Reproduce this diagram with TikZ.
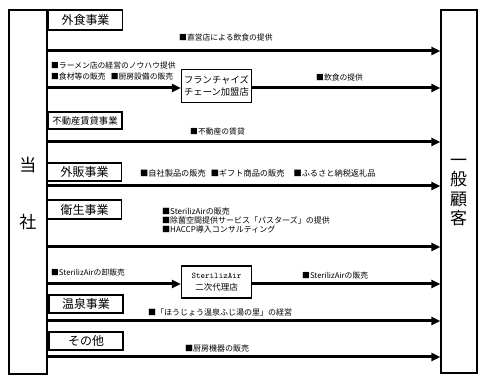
\documentclass[tikz,border=0pt]{standalone}
\usepackage{fontspec}
\newfontfamily\jp{Noto Sans CJK JP}
\usetikzlibrary{arrows.meta}
\begin{document}
\begin{tikzpicture}[x=1pt,y=-1pt,
  bigbox/.style={draw,line width=1.3pt,inner sep=0pt},
  secbox/.style={draw,line width=1.4pt,inner sep=0pt,minimum width=74pt,minimum height=18pt,font=\jp\fontsize{12}{12}\selectfont},
  midbox/.style={draw,line width=1.3pt,inner sep=0pt,minimum width=70pt,minimum height=33pt,align=center},
  lbl/.style={anchor=west,inner sep=0pt,font=\jp\fontsize{7.8}{9}\selectfont},
  flow/.style={line width=3pt,-{Triangle[length=9pt,width=8pt]}},
  bigtxt/.style={inner sep=0pt,font=\jp\fontsize{17}{19.5}\selectfont,align=center}]
\useasboundingbox (0,0) rectangle (491,387);
% main boxes
\node[bigbox,minimum width=38pt,minimum height=364pt] (tosha) at (28,192) {};
\node[bigbox,minimum width=36pt,minimum height=363pt] (kokyaku) at (459,191.5) {};
\node[bigtxt] (t1) at (28,165) {当};
\node[bigtxt] (t2) at (28,222) {社};
\node[bigtxt] (k1) at (458.5,192.5) {一\\般\\顧\\客};
% section boxes
\node[secbox,minimum height=20pt] (gaishoku) at (85.5,20) {外食事業};
\node[secbox,minimum height=17pt,font=\jp\fontsize{9.3}{9.3}\selectfont] (fudosan) at (85,120.5) {不動産賃貸事業};
\node[secbox] (gaihan) at (84.5,172) {外販事業};
\node[secbox,minimum height=19pt] (eisei) at (84.5,209.5) {衛生事業};
\node[secbox] (onsen) at (86,304) {温泉事業};
\node[secbox] (sonota) at (86,341) {その他};
% intermediate boxes
\node[midbox,font=\jp\fontsize{9.3}{12}\selectfont] (fc) at (216.5,86) {フランチャイズ\\チェーン加盟店};
\node[midbox,minimum height=32pt] (sa) at (216.5,282) {{\ttfamily\fontsize{8.6}{12}\selectfont SterilizAir}\\{\jp\fontsize{8.5}{12}\selectfont 二次代理店}};
% start coordinates on the left box
\coordinate (s1) at (tosha.east |- 0,51);
\coordinate (s2) at (tosha.east |- 0,88);
\coordinate (s3) at (tosha.east |- 0,142);
\coordinate (s4) at (tosha.east |- 0,186);
\coordinate (s5) at (tosha.east |- 0,247);
\coordinate (s6) at (tosha.east |- 0,284);
\coordinate (s7) at (tosha.east |- 0,321);
\coordinate (s8) at (tosha.east |- 0,357);
% arrows
\draw[flow] (s1) -- (s1 -| kokyaku.west);
\draw[flow] (s2) -- (s2 -| fc.west);
\draw[flow] (fc.east |- s2) -- (s2 -| kokyaku.west);
\draw[flow] (s3) -- (s3 -| kokyaku.west);
\draw[flow] (s4) -- (s4 -| kokyaku.west);
\draw[flow] (s5) -- (s5 -| kokyaku.west);
\draw[flow] (s6) -- (s6 -| sa.west);
\draw[flow] (sa.east |- s6) -- (s6 -| kokyaku.west);
\draw[flow] (s7) -- (s7 -| kokyaku.west);
\draw[flow] (s8) -- (s8 -| kokyaku.west);
% labels
\node[lbl] (l1) at (179,38) {■直営店による飲食の提供};
\node[lbl] (l2a) at (51,66) {■ラーメン店の経営のノウハウ提供};
\node[lbl] (l2b) at (51,77) {■食材等の販売\hspace{5pt}■厨房設備の販売};
\node[lbl] (l2c) at (316,78) {■飲食の提供};
\node[lbl] (l3) at (190,132) {■不動産の賃貸};
\node[lbl,font=\jp\fontsize{8.2}{9}\selectfont] (l4) at (140,173) {■自社製品の販売\hspace{5pt}■ギフト商品の販売\hspace{9pt}■ふるさと納税返礼品};
\node[lbl,align=left,font=\jp\fontsize{8}{9}\selectfont] (l5) at (162,220) {■SterilizAirの販売\\■除菌空間提供サービス「パスターズ」の提供\\■HACCP導入コンサルティング};
\node[lbl] (l6a) at (51,273) {■SterilizAirの卸販売};
\node[lbl] (l6b) at (302,276) {■SterilizAirの販売};
\node[lbl,font=\jp\fontsize{8}{9}\selectfont] (l7) at (148,312) {■「ほうじょう温泉ふじ湯の里」の経営};
\node[lbl,font=\jp\fontsize{8}{9}\selectfont] (l8) at (185,348) {■厨房機器の販売};
\end{tikzpicture}
\end{document}
